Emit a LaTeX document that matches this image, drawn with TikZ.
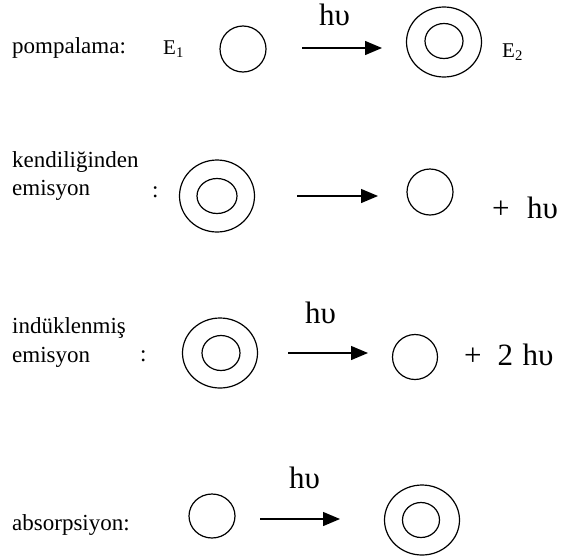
\documentclass[tikz,border=0pt]{standalone}
\usepackage{fontspec}
\setmainfont{Liberation Serif}
\usetikzlibrary{shapes.geometric,arrows.meta}

\tikzset{
  lbl/.style={anchor=base west, inner sep=0pt, font=\fontsize{23}{28}\selectfont},
  lvl/.style={anchor=base west, inner sep=0pt, font=\fontsize{21}{25}\selectfont},
  phot/.style={anchor=base west, inner sep=0pt, font=\fontsize{31}{36}\selectfont},
  orb/.style={ellipse, draw, line width=1.2pt, inner sep=0pt},
  arr/.style={line width=1.3pt, -{Triangle[length=17pt,width=14pt]}}
}

\begin{document}
\begin{tikzpicture}[x=1pt,y=-1pt]
\useasboundingbox (0,0) rectangle (561,557);

% --- pumping
\node[lbl] (p0) at (12,53) {pompalama:};
\node[lvl] (e1) at (163,54) {E\textsubscript{1}};
\node[orb, minimum width=46pt, minimum height=46pt] (p1) at (243,49) {};
\coordinate (p2s) at (302,48);
\coordinate (p2e) at (382,48);
\draw[arr] (p2s) -- (p2e);
\node[phot] (p2h) at (319,25) {hυ};
\node[orb, minimum width=75pt, minimum height=70pt] (p3o) at (444,42) {};
\node[orb, minimum width=38pt, minimum height=35pt] (p3i) at (444,41) {};
\node[lvl] (e2) at (502,57) {E\textsubscript{2}};

% --- spontaneous emission
\node[lbl] (s0a) at (12,167) {kendiliğinden};
\node[lbl] (s0b) at (12,195) {emisyon};
\node[lbl] (s0c) at (152,197) {:};
\node[orb, minimum width=75pt, minimum height=72pt] (s1o) at (217,196) {};
\node[orb, minimum width=40pt, minimum height=35pt] (s1i) at (217,196) {};
\coordinate (s2s) at (297,196);
\coordinate (s2e) at (378,196);
\draw[arr] (s2s) -- (s2e);
\node[orb, minimum width=46pt, minimum height=46pt] (s3) at (430,192) {};
\node[phot] (s4) at (492,218) {+\hspace{17.5pt}hυ};

% --- stimulated emission
\node[lbl] (t0a) at (12,333) {indüklenmiş};
\node[lbl] (t0b) at (12,362) {emisyon};
\node[lbl] (t0c) at (140,361) {:};
\node[orb, minimum width=75pt, minimum height=70pt] (t1o) at (220,353) {};
\node[orb, minimum width=38pt, minimum height=35pt] (t1i) at (221,353) {};
\node[phot] (t2h) at (305,323) {hυ};
\coordinate (t2s) at (288,353);
\coordinate (t2e) at (368,353);
\draw[arr] (t2s) -- (t2e);
\node[orb, minimum width=45pt, minimum height=45pt] (t3) at (415,357) {};
\node[phot] (t4) at (464,365) {+\hspace{16pt}2\hspace{9.5pt}hυ};

% --- absorption
\node[lbl] (a0) at (12,530) {absorpsiyon:};
\node[orb, minimum width=46pt, minimum height=44pt] (a1) at (212,516) {};
\node[phot] (a2h) at (289,488) {hυ};
\coordinate (a2s) at (260,519);
\coordinate (a2e) at (340,519);
\draw[arr] (a2s) -- (a2e);
\node[orb, minimum width=75pt, minimum height=70pt] (a3o) at (422,520) {};
\node[orb, minimum width=37pt, minimum height=35pt] (a3i) at (421,520) {};
\end{tikzpicture}
\end{document}
